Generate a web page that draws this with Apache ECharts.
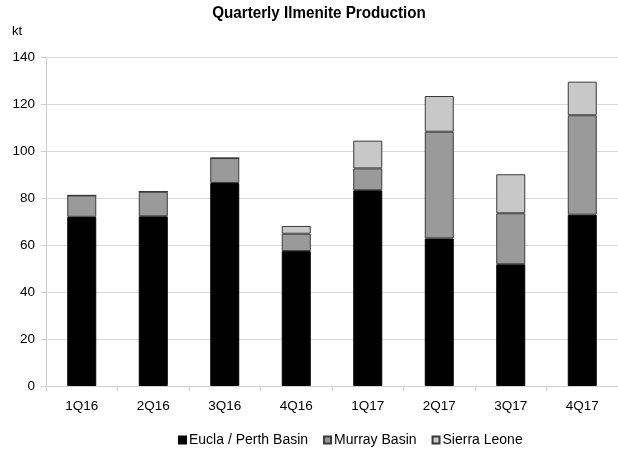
<!DOCTYPE html>
<html><head><meta charset="utf-8">
<script src="https://cdn.jsdelivr.net/npm/echarts@6/dist/echarts.min.js"></script>
<style>html,body{margin:0;padding:0;background:#fff}#c{width:618px;height:450px}</style>
</head><body><div id="c"></div>
<script>
const categories = ['1Q16','2Q16','3Q16','4Q16','1Q17','2Q17','3Q17','4Q17'];
const eucla = [72.0, 72.2, 86.4, 57.4, 83.3, 62.8, 51.8, 72.9];
const murray = [9.1, 10.5, 10.6, 7.4, 9.3, 45.4, 21.7, 42.3];
const sierra = [0, 0, 0, 3.3, 11.8, 15.2, 16.6, 14.3];
const yTicks = [0, 20, 40, 60, 80, 100, 120, 140];
const seriesNames = ['Eucla / Perth Basin', 'Murray Basin', 'Sierra Leone'];

const chart = echarts.init(document.getElementById('c'), null, {renderer: 'canvas'});
const font = 'Liberation Sans, Arial, sans-serif';
function mk(name, data, color, border) {
  return {
    name, type: 'bar', stack: 'total', data, barWidth: 29,
    itemStyle: {color, borderColor: border, borderWidth: 1},
    emphasis: {disabled: true}
  };
}
chart.setOption({
  animation: false,
  graphic: [
    {type: 'text', x: 319, y: 6, scaleX: 0.95, originX: 0,
     style: {text: 'Quarterly Ilmenite Production', align: 'center',
       font: 'bold 16px Liberation Sans, Arial, sans-serif', fill: '#000'}},
    {type: 'text', left: 12, top: 25, style: {text: 'kt', font: '13px Liberation Sans, Arial, sans-serif', fill: '#000'}}
  ],
  legend: {
    data: seriesNames, left: 173, top: 428, itemWidth: 7, itemHeight: 7, itemGap: 15,
    icon: 'rect',
    textStyle: {fontFamily: font, fontSize: 14, color: '#000', padding: [0, 0, 0, -2]}
  },
  grid: {left: 46, right: -6, top: 57, bottom: 64, containLabel: false},
  xAxis: {
    type: 'category', data: categories,
    axisLine: {lineStyle: {color: '#d0d0d0'}},
    axisTick: {show: true, alignWithLabel: false, length: 5, lineStyle: {color: '#d0d0d0'}},
    axisLabel: {fontFamily: font, fontSize: 13.5, color: '#000', margin: 13}
  },
  yAxis: {
    type: 'value', min: 0, max: 140, interval: 20,
    axisLine: {show: true, lineStyle: {color: '#d0d0d0'}},
    axisTick: {show: true, length: 5, lineStyle: {color: '#d0d0d0'}},
    splitLine: {lineStyle: {color: '#d9d9d9'}},
    axisLabel: {fontFamily: font, fontSize: 13.5, color: '#000', margin: 11,
      formatter: v => yTicks.includes(v) ? String(v) : ''}
  },
  series: [
    mk(seriesNames[0], eucla, '#000000', '#000000'),
    mk(seriesNames[1], murray, '#9a9a9a', '#3a3a3a'),
    mk(seriesNames[2], sierra, '#c8c8c8', '#3a3a3a')
  ]
});
</script></body></html>
